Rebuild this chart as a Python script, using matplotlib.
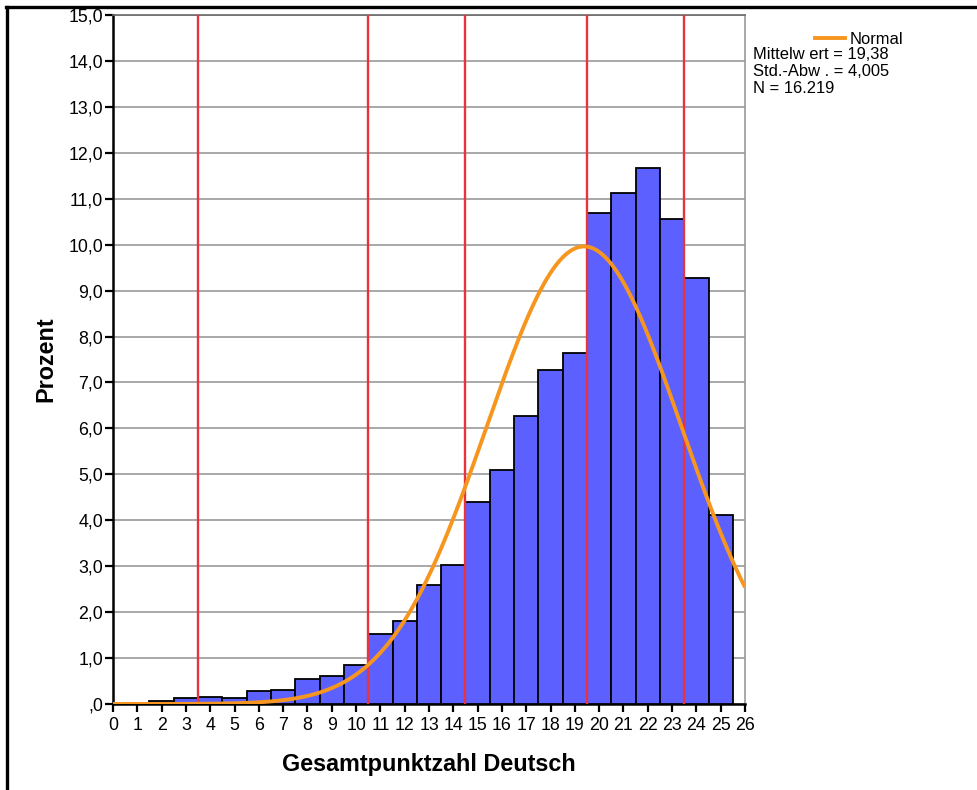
import matplotlib.pyplot as plt
import numpy as np
from matplotlib.lines import Line2D

plt.rcParams['font.family'] = ['Liberation Sans', 'DejaVu Sans']

# Prozent je Punktzahl (0..25)
punkte = list(range(0, 26))
prozent = [0.01, 0.02, 0.07, 0.12, 0.15, 0.13, 0.28, 0.30, 0.55, 0.60, 0.85,
           1.52, 1.80, 2.60, 3.03, 4.40, 5.09, 6.27, 7.27, 7.64,
           10.68, 11.13, 11.67, 10.56, 9.28, 4.11]
grenzen = [3.5, 10.5, 14.5, 19.5, 23.5]
mittelwert = 19.38
std_abw = 4.005
n_text = "16.219"

fig = plt.figure(figsize=(9.77, 7.9), dpi=100)
ax = fig.add_axes([113/977, 86/790, 632/977, 689/790])

ax.bar(punkte, prozent, width=1.0, color='#5b60ff', edgecolor='black', linewidth=1.3, zorder=3)

for g in grenzen:
    ax.axvline(g, color='#e8323c', linewidth=1.7, zorder=4)

xs = np.linspace(0, 26, 400)
kurve = 100 * np.exp(-0.5 * ((xs - mittelwert) / std_abw) ** 2) / (std_abw * np.sqrt(2 * np.pi))
ax.plot(xs, kurve, color='#f7961e', linewidth=2.8, zorder=5, solid_capstyle='butt')

ax.set_xlim(0, 26)
ax.set_ylim(0, 15)
ax.set_xticks(range(0, 27))
ax.set_yticks(range(0, 16))
ax.set_yticklabels([',0'] + ['%d,0' % v for v in range(1, 16)])
ax.yaxis.grid(True, color='#9a9a9a', linewidth=1.2, zorder=0)
ax.set_axisbelow(True)

ax.tick_params(axis='both', direction='out', length=6, width=1.6, labelsize=12.8)
ax.tick_params(axis='x', pad=3)
ax.tick_params(axis='y', pad=1)
ax.spines['left'].set_linewidth(1.8)
ax.spines['bottom'].set_linewidth(1.8)
ax.spines['right'].set_color('#9a9a9a')
ax.spines['right'].set_linewidth(1.2)
ax.spines['top'].set_color('#6a6a6a')
ax.spines['top'].set_linewidth(1.2)

ax.set_xlabel('Gesamtpunktzahl Deutsch', fontsize=16.8, fontweight='bold', labelpad=14)
ax.set_ylabel('Prozent', fontsize=16.8, fontweight='bold', labelpad=8)

# Legende
fig.add_artist(Line2D([815/977, 845/977], [1 - 38/790, 1 - 38/790], color='#f7961e', linewidth=2.8))
fig.text(850/977, 1 - 39/790, 'Normal', fontsize=11.9, va='center', ha='left')
fig.text(753/977, 1 - 47/790, 'Mittelw ert = %s\nStd.-Abw . = %s\nN = %s'
         % (str(mittelwert).replace('.', ','), str(std_abw).replace('.', ','), n_text),
         fontsize=11.9, va='top', ha='left', linespacing=1.15)

# Rahmen
fig.add_artist(Line2D([6/977, 1], [1 - 6.5/790, 1 - 6.5/790], color='black', linewidth=2.4))
fig.add_artist(Line2D([6.5/977, 6.5/977], [0, 1 - 6.5/790], color='black', linewidth=2.4))

fig.savefig('out.png', dpi=100)
